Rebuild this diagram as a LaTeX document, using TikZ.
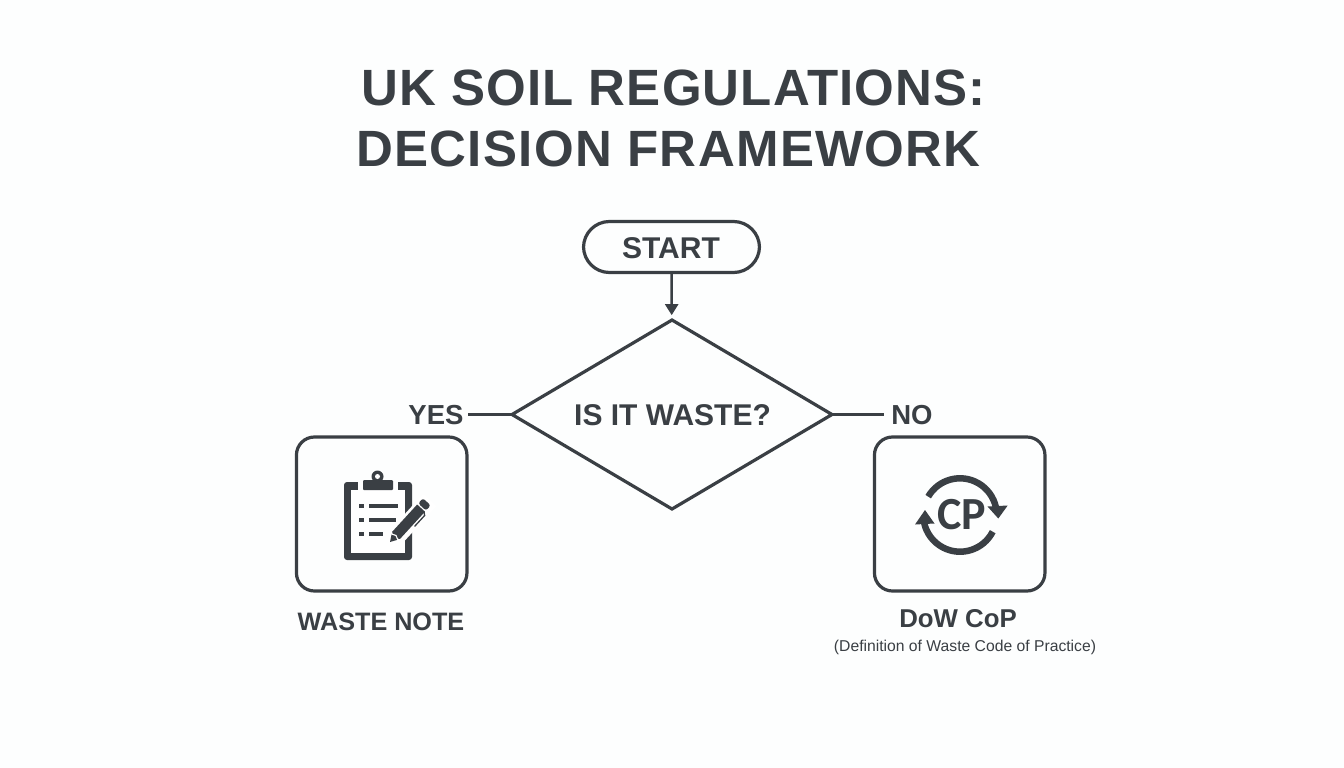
\documentclass[tikz,border=0pt]{standalone}
\usepackage{fontspec}
\setmainfont{Liberation Sans}
\newfontfamily\cpfont{Carlito}
\usetikzlibrary{shapes.geometric,arrows.meta}
\definecolor{ink}{HTML}{3A3F44}
\definecolor{paper}{HTML}{FDFEFE}
\tikzset{
  line/.style={draw=ink,line width=3.2pt},
  thinline/.style={draw=ink,line width=2.4pt},
  lab/.style={text=ink,anchor=base,inner sep=0pt,outer sep=0pt},
  iconbox/.style={line,rounded corners=18pt,minimum width=170.5pt,minimum height=154pt,inner sep=0pt,outer sep=0pt,anchor=center},
  title/.style={lab,font=\fontsize{51}{51}\selectfont\bfseries},
  big/.style={lab,font=\fontsize{30}{32}\selectfont\bfseries},
  side/.style={lab,font=\fontsize{27.5}{30}\selectfont\bfseries}
}
\begin{document}
\begin{tikzpicture}[x=1pt,y=-1pt]
\fill[paper] (0,0) rectangle (1344,768);
\useasboundingbox (0,0) rectangle (1344,768);
\node[title] (t1) at (673.5,105) {\addfontfeature{LetterSpace=2.2}UK SOIL REGULATIONS:};
\node[title] (t2) at (668.5,166) {\addfontfeature{LetterSpace=2.6}DECISION FRAMEWORK};
\node[line,rounded corners=26pt,minimum width=176pt,minimum height=51pt,inner sep=0pt,outer sep=0pt] (start) at (671.5,247) {};
\node[big] (starttxt) at (671,258) {START};
\node[diamond,line,minimum width=320pt,minimum height=189pt,inner sep=0pt,outer sep=0pt] (dec) at (672,414.5) {};
\node[big] (dectxt) at (672.5,425) {IS IT WASTE?};
\draw[thinline,-{Triangle[length=11pt,width=13pt]},shorten >=5pt] (start) -- (dec);
\node[side] (yes) at (436,424.5) {YES};
\node[side] (no) at (912,424.5) {NO};
\coordinate (yesend) at (468,414.5);
\coordinate (noend) at (884,414.5);
\draw[thinline] (dec.west) -- (yesend);
\draw[thinline] (dec.east) -- (noend);
\node[iconbox] (wn) at (381.7,514) {};
\node[iconbox] (dow) at (959.7,514) {};
\node[lab,font=\fontsize{25.2}{27}\selectfont\bfseries] (wntxt) at (381,630) {WASTE NOTE};
\node[lab,font=\fontsize{25.8}{27}\selectfont\bfseries] (dowtxt) at (958,627) {DoW CoP};
\node[lab,font=\fontsize{15.7}{17}\selectfont] (dowsub) at (965,651) {(Definition of Waste Code of Practice)};
% clipboard icon
\fill[ink,rounded corners=3pt] (344,482) rectangle (412,560);
\fill[white] (351,490) rectangle (405,553);
\fill[white] (358,480) rectangle (398,490);
\fill[ink,rounded corners=1pt] (363,480) rectangle (393,490);
\fill[ink] (377.5,476.5) circle (6);
\fill[white] (377.5,476.5) circle (2.5);
\foreach \yy/\xe in {506/398,520/396,534/383}{
  \fill[ink] (359,\yy-2.2) rectangle (363.5,\yy+2.2);
  \fill[ink] (369,\yy-2.2) rectangle (\xe,\yy+2.2);
}
\begin{scope}[shift={(390,542)},rotate=47.5]
  \fill[white] (-3,-8) rectangle (58,10);
  \fill[ink] (0,0) -- (7,-4.2) -- (7,4.2) -- cycle;
  \fill[ink] (9,-5.3) -- (46,-5.3) -- (46,5.3) -- (9,5.3) -- (5.5,0) -- cycle;
  \fill[white] (7,-5.3) -- (9.5,0) -- (7,5.3) -- (6,5.3) -- (8.2,0) -- (6,-5.3) -- cycle;
  \fill[ink,rounded corners=2.5pt] (47.5,-5.3) rectangle (54.5,5.3);
  \draw[ink,line width=1.3pt] (28,7.6) -- (43,7.6) -- (45,5);
\end{scope}
% CP icon
\draw[ink,line width=6.5pt] (960,515) ++(-150:36.7) arc[start angle=-150,end angle=-12,radius=36.7];
\fill[ink] (998.3,518.5) -- (987.5,506.5) -- (1007.7,505.5) -- cycle;
\draw[ink,line width=6.5pt] (960,515) ++(27:36.7) arc[start angle=27,end angle=168,radius=36.7];
\fill[ink] (925,510) -- (915,524.5) -- (934.5,523.5) -- cycle;
\node[lab,font=\cpfont\fontsize{46}{46}\selectfont\bfseries] (cp) at (962,529.5) {CP};
\end{tikzpicture}
\end{document}
